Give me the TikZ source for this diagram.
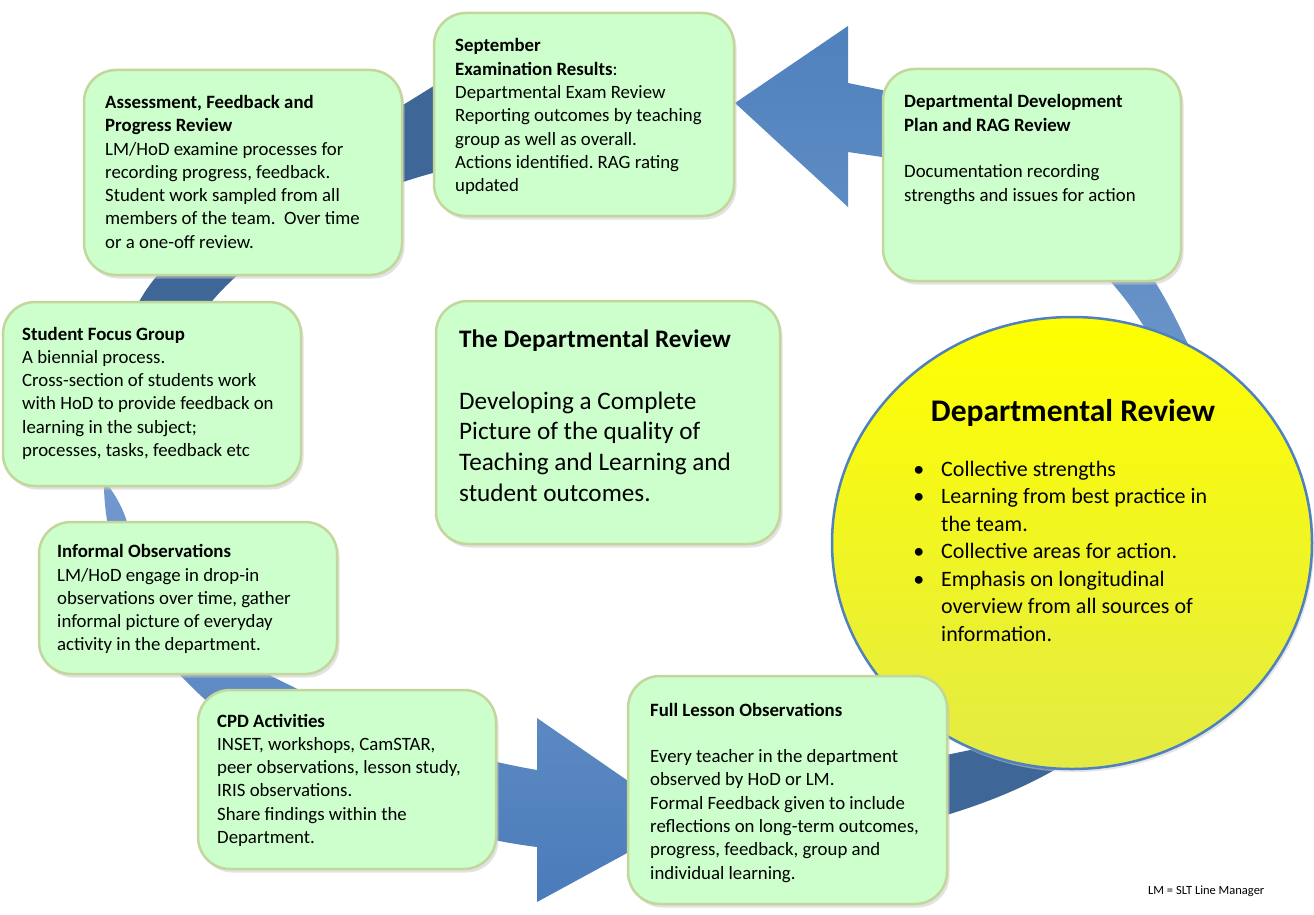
\documentclass[tikz,border=0pt]{standalone}
\usepackage{fontspec}
\setmainfont{Carlito}
\usetikzlibrary{shapes.geometric,shadows}
\definecolor{boxfill}{HTML}{CCFFCC}
\definecolor{boxedge}{HTML}{C3D69B}
\definecolor{ringdark}{HTML}{3E6797}
\definecolor{ringmid}{HTML}{4F81BD}
\definecolor{ringlight}{HTML}{86A8D6}
\definecolor{ringlightB}{HTML}{7399CD}
\definecolor{ringmidB}{HTML}{4A7CBA}
\definecolor{circtop}{HTML}{FFFF00}
\definecolor{circbot}{HTML}{E3EB44}
\definecolor{circedge}{HTML}{4F81BD}
\newcommand\bodyfs{\fontsize{18.8pt}{23.3pt}\selectfont}
\newcommand\midfs{\fontsize{25.2pt}{30.75pt}\selectfont}
\newcommand\bigfs{\fontsize{31.5pt}{38pt}\selectfont}
\newcommand\bulfs{\fontsize{22pt}{27.5pt}\selectfont}
\newcommand\notefs{\fontsize{12.5pt}{15pt}\selectfont}
\newcommand\myblt{\leavevmode\llap{\textbullet\hspace{17pt}}}
\frenchspacing
\begin{document}
\begin{tikzpicture}[x=1pt,y=-1pt,
  gbox/.style={draw=boxedge, fill=boxfill, line width=2.5pt, rounded corners=32pt,
    inner sep=0pt, drop shadow={shadow xshift=2.5pt, shadow yshift=-3.5pt, fill=black!22}},
  txt/.style={inner sep=0pt, anchor=base west, font=\bodyfs},
  darkring/.style={fill=ringdark},
  lightA/.style={top color=ringmid, bottom color=ringlight, draw=none},
  lightB/.style={top color=ringlightB, bottom color=ringmidB, draw=none}]
\useasboundingbox (0,0) rectangle (1314,915);
\fill[white] (0,0) rectangle (1314,915);

% ---- ring: dark (back) parts
\fill[darkring] (480,56) .. controls (330,156) and (185,220) .. (140,300)
  .. controls (95,380) and (95,450) .. (104,480)
  .. controls (130,420) and (170,350) .. (213,300)
  .. controls (260,245) and (350,195) .. (433,173) -- (500,160) -- cycle;
\fill[darkring] (780,782) .. controls (880,770) and (1040,740) .. (1140,705)
  .. controls (1070,775) and (970,825) .. (780,848) -- cycle;

% ---- ring: front parts with arrow heads
\path[lightB] (104,480) .. controls (103,540) and (130,625) .. (182,677)
  .. controls (260,760) and (400,830) .. (537,847) -- (537,902) -- (686,821)
  -- (537,718) -- (537,770) .. controls (420,750) and (330,705) .. (273,677)
  .. controls (200,632) and (140,575) .. (127,522)
  .. controls (122,505) and (112,490) .. (104,480) -- cycle;
\path[lightA] (1140,705) .. controls (1230,640) and (1235,420) .. (1187,342)
  .. controls (1162,290) and (1100,150) .. (882,90) -- (848,83) -- (848,26)
  -- (735,103) -- (848,207) -- (848,152) -- (882,157)
  .. controls (990,172) and (1090,240) .. (1143,325)
  .. controls (1190,400) and (1200,620) .. (1140,705) -- cycle;

% ---- central ellipse
\node[ellipse, minimum width=480pt, minimum height=452pt, top color=circtop,
  bottom color=circbot, draw=circedge, line width=2.5pt,
  drop shadow={shadow xshift=2pt, shadow yshift=-3pt, fill=black!20}] (circ) at (1072,543) {};
\node[inner sep=0pt, anchor=base, font=\bigfs\bfseries] (ctitle) at (1073,421) {Departmental Review};
\node[inner sep=0pt, anchor=base west, font=\bulfs] (cbul) at (941,476) {\parbox[t]{330pt}{\raggedright
\myblt Collective strengths\\
\myblt Learning from best practice in\\
the team.\\
\myblt Collective areas for action.\\
\myblt Emphasis on longitudinal\\
overview from all sources of\\
information.}};

% ---- boxes
\node[gbox, minimum width=318pt, minimum height=205pt] (b1) at (243,172.5) {};
\node[gbox, minimum width=300pt, minimum height=203pt] (b2) at (584,114.5) {};
\node[gbox, minimum width=298pt, minimum height=212pt] (b3) at (1032,175) {};
\node[gbox, minimum width=298pt, minimum height=184pt] (b4) at (152,394) {};
\node[gbox, minimum width=298pt, minimum height=152pt] (b5) at (188,598) {};
\node[gbox, minimum width=298pt, minimum height=179pt] (b6) at (347,779.5) {};
\node[gbox, minimum width=319pt, minimum height=228pt] (b7) at (787.5,790) {};
\node[gbox, minimum width=344pt, minimum height=243pt] (b8) at (608,422.5) {};

\node[txt] (t1) at (105,108.5) {\parbox[t]{330pt}{\raggedright
\textbf{Assessment, Feedback and}\\
\textbf{Progress Review}\\
LM/HoD examine processes for\\
recording progress, feedback.\\
Student work sampled from all\\
members of the team.~ Over time\\
or a one-off review.}};
\node[txt] (t2) at (455,52) {\parbox[t]{330pt}{\raggedright
\textbf{September}\\
\textbf{Examination Results}:\\
Departmental Exam Review\\
Reporting outcomes by teaching\\
group as well as overall.\\
Actions identified. RAG rating\\
updated}};
\node[txt] (t3) at (904,108) {\parbox[t]{330pt}{\raggedright
\textbf{Departmental Development}\\
\textbf{Plan and RAG Review}\\
\strut\\
Documentation recording\\
strengths and issues for action}};
\node[txt] (t4) at (22,340) {\parbox[t]{330pt}{\raggedright
\textbf{Student Focus Group}\\
A biennial process.\\
Cross-section of students work\\
with HoD to provide feedback on\\
learning in the subject;\\
processes, tasks, feedback etc}};
\node[txt] (t5) at (57,557.7) {\parbox[t]{330pt}{\raggedright
\textbf{Informal Observations}\\
LM/HoD engage in drop-in\\
observations over time, gather\\
informal picture of everyday\\
activity in the department.}};
\node[txt] (t6) at (217,727) {\parbox[t]{330pt}{\raggedright
\textbf{CPD Activities}\\
INSET, workshops, CamSTAR,\\
peer observations, lesson study,\\
IRIS observations.\\
Share findings within the\\
Department.}};
\node[txt] (t7) at (650,716) {\parbox[t]{330pt}{\raggedright
\textbf{Full Lesson Observations}\\
\strut\\
Every teacher in the department\\
observed by HoD or LM.\\
Formal Feedback given to include\\
reflections on long-term outcomes,\\
progress, feedback, group and\\
individual learning.}};
\node[txt, font=\midfs] (t8) at (459,347.5) {\parbox[t]{330pt}{\raggedright
\textbf{The Departmental Review}\\
\strut\\
Developing a Complete\\
Picture of the quality of\\
Teaching and Learning and\\
student outcomes.}};

\node[inner sep=0pt, anchor=base west, font=\notefs] (fn) at (1148,894) {LM = SLT Line Manager};
\end{tikzpicture}
\end{document}
